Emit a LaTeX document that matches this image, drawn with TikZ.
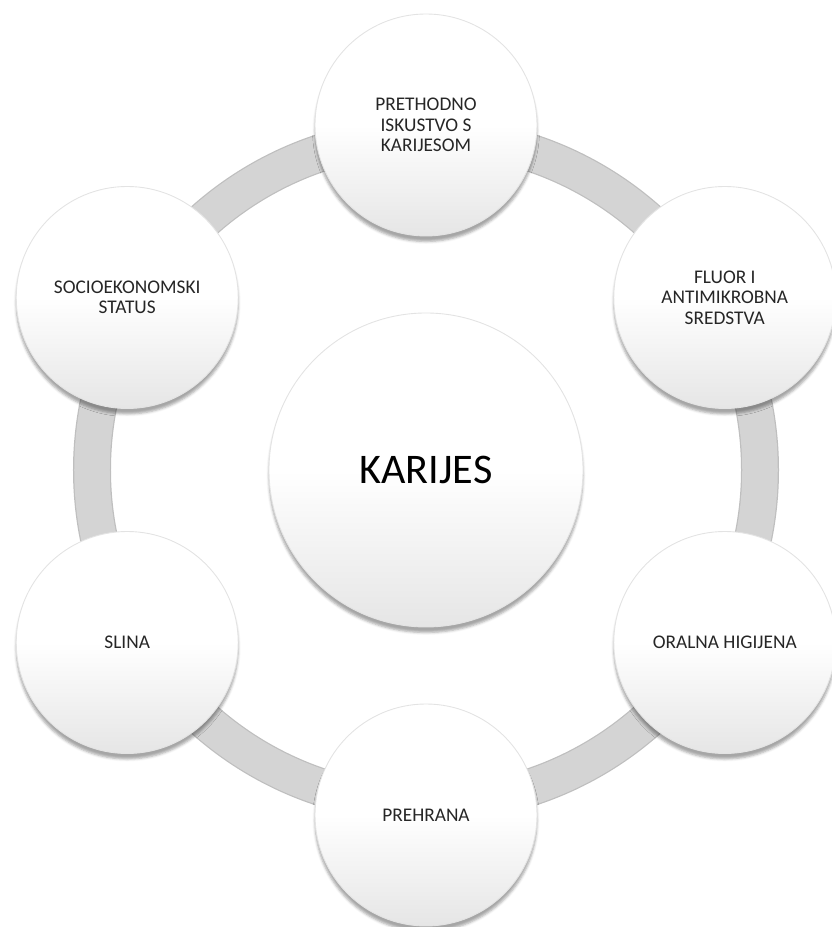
\documentclass[tikz,border=0pt]{standalone}
\usepackage{fontspec}
\setmainfont{Carlito}
\usetikzlibrary{shadows.blur}
\pgfdeclareverticalshading{satfade}{100bp}{color(0bp)=(black!10); color(25bp)=(black!10); color(50bp)=(white); color(100bp)=(white)}
\tikzset{
  factor/.style={circle, minimum size=4.44cm, inner sep=0pt, align=center,
    shading=satfade, shade, draw=black!11, line width=0.5pt,
    text=black!85, font=\fontsize{11}{11.6}\selectfont,
    blur shadow={shadow xshift=0pt, shadow yshift=-0.11cm,
      shadow blur radius=0.05cm, shadow opacity=35}},
  hubnode/.style={factor, minimum size=6.28cm, text=black,
    font=\fontsize{24}{27}\selectfont},
  ringedge/.style={line width=0.76cm, draw=black!25},
  ring/.style={line width=0.71cm, draw=black!17}
}
\begin{document}
\begin{tikzpicture}[x=1cm,y=1cm]
\useasboundingbox (-8.52,-9.14) rectangle (8.10,9.40);
\coordinate (mid) at (0,0);
\draw[ringedge] (mid) circle (6.68);
\draw[ring] (mid) circle (6.68);
\node[factor] (prior) at (90:6.9) {PRETHODNO\\ISKUSTVO S\\KARIJESOM};
\node[factor] (fluor) at (30:6.9) {FLUOR I\\ANTIMIKROBNA\\SREDSTVA};
\node[factor] (hyg) at (-30:6.9) {ORALNA HIGIJENA};
\node[factor] (diet) at (-90:6.9) {PREHRANA};
\node[factor] (saliva) at (-150:6.9) {SLINA};
\node[factor] (ses) at (150:6.9) {SOCIOEKONOMSKI\\STATUS};
\node[hubnode] (hub) at (mid) {KARIJES};
\end{tikzpicture}
\end{document}
